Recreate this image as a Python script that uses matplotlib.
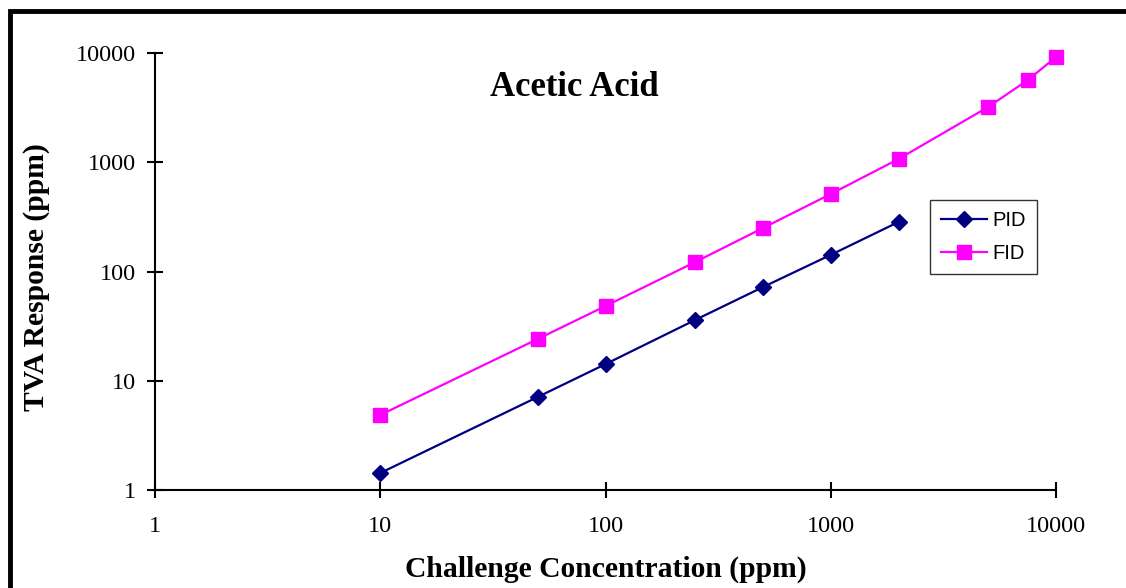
import matplotlib
matplotlib.use("Agg")
import matplotlib.pyplot as plt
from matplotlib.patches import Rectangle

# Data
pid_conc = [10, 50, 100, 250, 500, 1000, 2000]
pid_resp = [1.43, 7.1, 14.2, 36, 72, 142, 284]
fid_conc = [10, 50, 100, 250, 500, 1000, 2000, 5000, 7500, 10000]
fid_resp = [4.86, 24.1, 48.3, 122, 250, 512, 1071, 3205, 5660, 9190]
ticks = [1, 10, 100, 1000, 10000]
tick_labels = ["1", "10", "100", "1000", "10000"]

W, H = 1126, 588
fig = plt.figure(figsize=(W / 100, H / 100), dpi=100)
ax = fig.add_axes([155 / W, 1 - 490 / H, (1056 - 155) / W, (490 - 53) / H])

serif = ["Liberation Serif", "DejaVu Serif"]
sans = ["Liberation Sans", "DejaVu Sans"]

ax.plot(pid_conc, pid_resp, color="#000080", lw=1.6, marker="D", ms=8,
        mfc="#000080", mec="#000080", label="PID", clip_on=False, zorder=3)
ax.plot(fid_conc, fid_resp, color="#FF00FF", lw=1.6, marker="s", ms=10,
        mfc="#FF00FF", mec="#FF00FF", label="FID", clip_on=False, zorder=3)

ax.set_xscale("log")
ax.set_yscale("log")
ax.set_xlim(1, 10000)
ax.set_ylim(1, 10000)
ax.set_xticks(ticks)
ax.set_xticklabels(tick_labels, fontfamily=serif, fontsize=17.5)
ax.set_yticks(ticks)
ax.set_yticklabels(tick_labels, fontfamily=serif, fontsize=17.5)
ax.minorticks_off()
ax.tick_params(axis="both", which="major", direction="inout", length=12,
               width=1.5, color="black")
ax.tick_params(axis="x", pad=13)
ax.tick_params(axis="y", pad=8)

for s in ["top", "right"]:
    ax.spines[s].set_visible(False)
for s in ["left", "bottom"]:
    ax.spines[s].set_linewidth(1.5)

ax.set_xlabel("Challenge Concentration (ppm)", fontfamily=serif,
              fontweight="bold", fontsize=21.3)
ax.set_ylabel("TVA Response (ppm)", fontfamily=serif,
              fontweight="bold", fontsize=21.3)
ax.xaxis.set_label_coords(0.5, -0.15)
ax.yaxis.set_label_coords(-0.116, 0.487)

ax.text(0.465, 0.922, "Acetic Acid", transform=ax.transAxes, ha="center",
        va="center", fontfamily=serif, fontweight="bold", fontsize=25)

leg = ax.legend(loc="upper left", bbox_to_anchor=(0.860, 0.664),
                prop={"family": sans, "size": 14.5}, frameon=True,
                fancybox=False, edgecolor="black", borderpad=0.55,
                handlelength=2.3, labelspacing=0.7, handletextpad=0.25,
                borderaxespad=0)
leg.get_frame().set_linewidth(1.0)

# Figure border (top and left visible)
fig.patches.append(Rectangle((10 / W, -0.1), 1.2, 1 - 11 / H + 0.1,
                             transform=fig.transFigure, fill=False,
                             edgecolor="black", linewidth=3.5, clip_on=False))

fig.savefig("out.png", dpi=100)
